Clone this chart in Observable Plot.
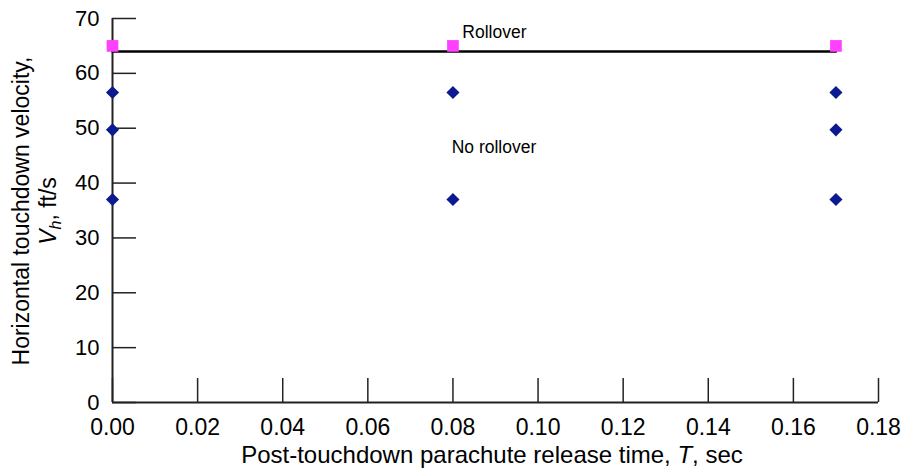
<!DOCTYPE html>
<html><head><meta charset="utf-8">
<script src="https://cdn.jsdelivr.net/npm/d3@7"></script>
<script src="https://cdn.jsdelivr.net/npm/@observablehq/plot@0.6"></script>
<style>
body{margin:0;background:#fff;}
svg{font-family:"Liberation Sans",Arial,Helvetica,sans-serif;}
</style>
</head><body><div id="chart"></div>
<script>
// Data
const noRolloverT = [0, 0, 0, 0.08, 0.08, 0.17, 0.17, 0.17];
const noRolloverV = [56.5, 49.7, 37.0, 56.5, 37.0, 56.5, 49.7, 37.0];
const rolloverT = [0, 0.08, 0.17];
const rolloverV = [65, 65, 65];
const boundaryT = [0, 0.17];
const boundaryV = [64, 64];
const xTicks = [0, 0.02, 0.04, 0.06, 0.08, 0.10, 0.12, 0.14, 0.16, 0.18];
const yTicks = [0, 10, 20, 30, 40, 50, 60, 70];
const noteText = ["Rollover", "No rollover"];
const noteT = [0.0822, 0.0797];
const noteV = [67.4, 46.5];

const noRollover = noRolloverT.map((t, i) => ({t, v: noRolloverV[i]}));
const rollover = rolloverT.map((t, i) => ({t, v: rolloverV[i]}));
const boundary = boundaryT.map((t, i) => ({t, v: boundaryV[i]}));
const notes = noteText.map((text, i) => ({text, t: noteT[i], v: noteV[i]}));

const W = 904, H = 470;
const M = {left: 112, right: 26, top: 18, bottom: 68};

const chart = Plot.plot({
  width: W, height: H,
  marginLeft: M.left, marginRight: M.right, marginTop: M.top, marginBottom: M.bottom,
  style: {fontFamily: '"Liberation Sans", Arial, sans-serif', color: "#000", background: "#fff"},
  x: {domain: [0, 0.18]},
  y: {domain: [0, 70]},
  marks: [
    Plot.axisY({ticks: yTicks, tickSize: -24, tickPadding: 37, fontSize: 22, label: null, stroke: "#222", strokeWidth: 1.5, tickFormat: d => d.toFixed(0)}),
    Plot.axisX({ticks: xTicks, tickSize: -24, tickPadding: 40, fontSize: 23, label: null, stroke: "#222", strokeWidth: 1.5, tickFormat: d => d.toFixed(2)}),
    Plot.ruleX([0], {stroke: "#222", strokeWidth: 2}),
    Plot.ruleY([0], {stroke: "#222", strokeWidth: 2}),
    Plot.line(boundary, {x: "t", y: "v", stroke: "#000", strokeWidth: 2.5}),
    Plot.dot(rollover, {x: "t", y: "v", symbol: "square", r: 6.6, fill: "#ff40ff", stroke: "none"}),
    Plot.dot(noRollover, {x: "t", y: "v", symbol: "diamond2", r: 5.9, fill: "#0c1a8f", stroke: "none"}),
    Plot.text(notes, {x: "t", y: "v", text: "text", textAnchor: "start", fontSize: 17.5, fill: "#000"})
  ]
});

const svg = d3.select(chart);
// Y-axis title (two lines, with italic V and subscript h)
const cy = 211;
const yl = svg.append("g").attr("font-size", 23).attr("fill", "#000").attr("text-anchor", "middle");
yl.append("text").attr("transform", `translate(29,${cy}) rotate(-90)`).text("Horizontal touchdown velocity,");
const t2 = yl.append("text").attr("transform", `translate(56,${cy}) rotate(-90)`);
t2.append("tspan").attr("font-style", "italic").text("V");
t2.append("tspan").attr("font-style", "italic").attr("font-size", 16).attr("dy", 5).text("h");
t2.append("tspan").attr("dy", -5).text(", ft/s");
// X-axis title
const cx = (M.left + (W - M.right)) / 2 - 3;
const xl = svg.append("text").attr("x", cx).attr("y", 463).attr("font-size", 24).attr("fill", "#000").attr("text-anchor", "middle");
xl.append("tspan").text("Post-touchdown parachute release time, ");
xl.append("tspan").attr("font-style", "italic").text("T");
xl.append("tspan").text(", sec");

document.getElementById("chart").appendChild(chart);
</script>
</body></html>
